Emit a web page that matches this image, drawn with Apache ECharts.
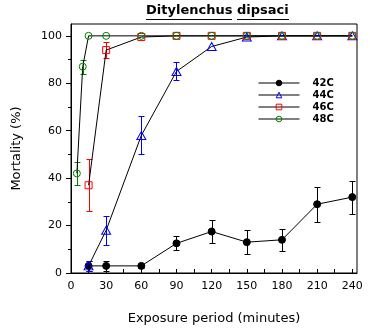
<!DOCTYPE html>
<html>
<head>
<meta charset="utf-8">
<script src="https://cdn.jsdelivr.net/npm/echarts@6/dist/echarts.min.js"></script>
<style>html,body{margin:0;padding:0;background:#fff}#c{width:370px;height:332px}</style>
</head>
<body>
<div id="c"></div>
<script>
// ---- data ----
const seriesNames = ['42C', '44C', '46C', '48C'];
const t42 = [15, 30, 60, 90, 120, 150, 180, 210, 240];
const m42 = [3, 3, 3, 12.5, 17.5, 13, 14, 29, 32];
const e42 = [2, 2, 1, 3, 5, 5, 4.6, 7.3, 7];
const t44 = [15, 30, 60, 90, 120, 150, 180, 210, 240];
const m44 = [3, 18, 58, 85, 95.5, 99.5, 100, 100, 100];
const e44 = [2, 6, 8, 3.8, 0, 0, 0, 0, 0];
const t46 = [15, 30, 60, 90, 120, 150, 180, 210, 240];
const m46 = [37, 94, 99.5, 100, 100, 100, 100, 100, 100];
const e46 = [11, 3.3, 0, 0, 0, 0, 0, 0, 0];
const t48 = [5, 10, 15, 30, 60, 90, 120, 150, 180, 210, 240];
const m48 = [42, 87, 100, 100, 100, 100, 100, 100, 100, 100, 100];
const e48 = [5, 3, 0, 0, 0, 0, 0, 0, 0, 0, 0];
const xLabels = [0, 30, 60, 90, 120, 150, 180, 210, 240];
const xTicks = [15, 30, 45, 60, 75, 90, 105, 120, 135, 150, 165, 180, 195, 210, 225, 240];
const yLabels = [0, 20, 40, 60, 80, 100];
const yMinor = [10, 30, 50, 70, 90];
const titleWords = ['Ditylenchus', 'dipsaci'];

const colors = ['#000000', '#0000ff', '#ff0000', '#008000'];
const fills = ['#000000', 'rgba(0,0,0,0)', 'rgba(0,0,0,0)', 'rgba(0,0,0,0)'];
const symbols = ['circle', 'triangle', 'rect', 'circle'];
const symSizes = [[7, 7], [9, 8], [7, 7], [7, 7]];
const sets = [[t42, m42, e42], [t44, m44, e44], [t46, m46, e46], [t48, m48, e48]];

const chart = echarts.init(document.getElementById('c'), null, {renderer: 'canvas'});
const FONT = 'DejaVu Sans';
const TFONT = 'bold 13px "DejaVu Sans"';

function errRender(color) {
  return function (params, api) {
    const x = api.value(0), y = api.value(1), e = api.value(2);
    if (!e) return null;
    const top = api.coord([x, y + e]);
    const bot = api.coord([x, y - e]);
    const px = Math.round(top[0]) + 0.5;
    const ty = Math.round(top[1]) + 0.5, by = Math.round(bot[1]) + 0.5;
    const w = 3;
    const st = {stroke: color, lineWidth: 1};
    return {
      type: 'group',
      children: [
        {type: 'line', shape: {x1: px, y1: ty, x2: px, y2: by}, style: st},
        {type: 'line', shape: {x1: px - w, y1: ty, x2: px + w, y2: ty}, style: st},
        {type: 'line', shape: {x1: px - w, y1: by, x2: px + w, y2: by}, style: st}
      ]
    };
  };
}

const series = [];
sets.forEach((s, i) => {
  series.push({
    type: 'custom',
    name: seriesNames[i] + ' err',
    renderItem: errRender(colors[i]),
    data: s[0].map((t, j) => [t, s[1][j], s[2][j]]),
    z: 2,
    silent: true
  });
});
sets.forEach((s, i) => {
  series.push({
    type: 'line',
    name: seriesNames[i],
    data: s[0].map((t, j) => [t, s[1][j]]),
    symbol: symbols[i],
    symbolSize: symSizes[i],
    showAllSymbol: true,
    lineStyle: {color: '#000', width: 1},
    itemStyle: {color: fills[i], borderColor: colors[i], borderWidth: 1},
    emphasis: {disabled: true},
    z: 3
  });
});

// title geometry
const ctx = document.createElement('canvas').getContext('2d');
ctx.font = TFONT;
const w1 = ctx.measureText(titleWords[0]).width;
const wsp = ctx.measureText(titleWords[0] + ' ').width;
const w2 = ctx.measureText(titleWords[1]).width;
const tx = Math.round(217 - (wsp + w2) / 2);
const uy = 19.5;

chart.setOption({
  animation: false,
  backgroundColor: '#fff',
  textStyle: {fontFamily: FONT},
  title: {
    text: titleWords.join(' '),
    left: tx, top: 4, padding: 0,
    textStyle: {fontFamily: FONT, fontWeight: 'bold', fontSize: 13, color: '#000', lineHeight: 14}
  },
  graphic: [
    {type: 'line', shape: {x1: tx, y1: uy, x2: Math.round(tx + w1), y2: uy}, style: {stroke: '#000', lineWidth: 1}},
    {type: 'line', shape: {x1: Math.round(tx + wsp), y1: uy, x2: Math.round(tx + wsp + w2), y2: uy}, style: {stroke: '#000', lineWidth: 1}}
  ],
  legend: {
    data: seriesNames.map((n, i) => ({
      name: n,
      itemStyle: {color: fills[i], borderColor: colors[i], borderWidth: 1},
      lineStyle: {color: '#000', width: 1}
    })),
    orient: 'vertical',
    left: 258, top: 77, padding: 0,
    itemWidth: 41, itemHeight: 7, itemGap: 0,
    textStyle: {fontFamily: FONT, fontWeight: 'bold', fontSize: 10, color: '#000', lineHeight: 12, padding: [0, 0, 0, 8]},
    selectedMode: false
  },
  grid: {left: 71, right: 13, top: 24, bottom: 59, show: true, borderColor: '#000', borderWidth: 1, backgroundColor: 'transparent'},
  xAxis: {
    type: 'value', min: 0, max: 244,
    name: 'Exposure period (minutes)', nameLocation: 'middle', nameGap: 39,
    nameTextStyle: {fontFamily: FONT, fontSize: 13, color: '#000'},
    axisLine: {show: true, lineStyle: {color: '#000', width: 1}},
    axisTick: {show: true, inside: true, length: 4, customValues: xTicks, lineStyle: {color: '#000'}},
    axisLabel: {customValues: xLabels, fontFamily: FONT, fontSize: 11, color: '#000', margin: 8},
    splitLine: {show: false}
  },
  yAxis: [{
    type: 'value', min: 0, max: 105,
    name: 'Mortality (%)', nameLocation: 'middle', nameGap: 48,
    nameTextStyle: {fontFamily: FONT, fontSize: 13, color: '#000'},
    axisLine: {show: true, lineStyle: {color: '#000', width: 1}},
    axisTick: {show: true, length: 5, customValues: yLabels, lineStyle: {color: '#000'}},
    axisLabel: {customValues: yLabels, fontFamily: FONT, fontSize: 11, color: '#000', margin: 9},
    splitLine: {show: false}
  }, {
    type: 'value', min: 0, max: 105, position: 'left',
    axisLine: {show: false},
    axisTick: {show: true, length: 3, customValues: yMinor, lineStyle: {color: '#000'}},
    axisLabel: {show: false},
    splitLine: {show: false}
  }],
  series: series
});
</script>
</body>
</html>
